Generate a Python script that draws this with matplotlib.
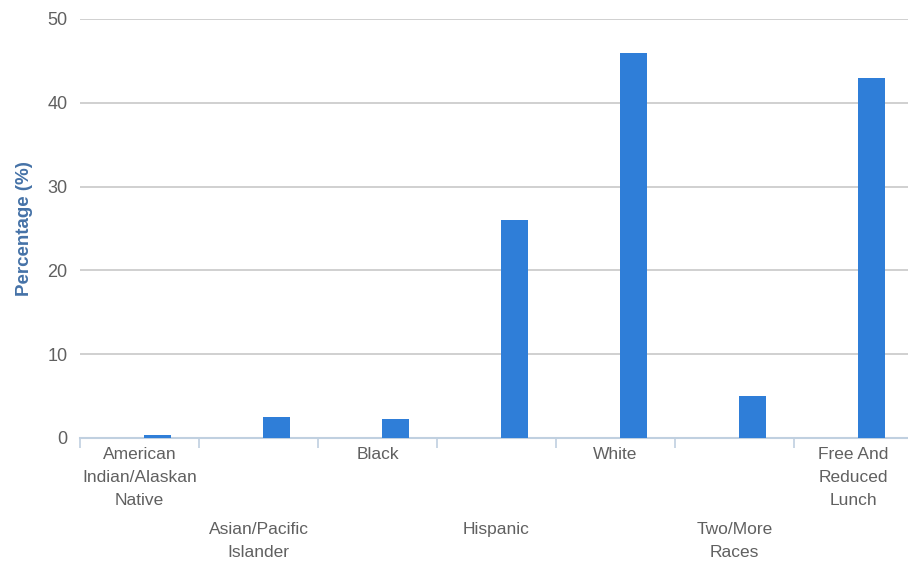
import matplotlib.pyplot as plt
import numpy as np

# categories and values
categories = ["American\nIndian/Alaskan\nNative", "Asian/Pacific\nIslander", "Black",
              "Hispanic", "White", "Two/More\nRaces", "Free And\nReduced\nLunch"]
values = [0.3, 2.5, 2.3, 26.0, 46.0, 5.0, 43.0]
yticks = [0, 10, 20, 30, 40, 50]

plt.rcParams['font.family'] = ['Liberation Sans', 'DejaVu Sans']

fig = plt.figure(figsize=(9.08, 5.68), dpi=100)
ax = fig.add_axes([80/908, 1 - 438/568, 833/908, (438 - 19)/568])

x = np.arange(len(categories))
ax.bar(x + 0.65, values, width=0.227, color='#2f7ed8', zorder=3)

ax.set_xlim(0, len(categories))
ax.set_ylim(0, 50)
ax.set_yticks(yticks)
ax.yaxis.grid(True, color='#c8c8c8', linewidth=1.2, zorder=0)
ax.tick_params(axis='y', length=0, labelsize=13, labelcolor='#606060', pad=9)

# category boundaries as ticks, labels in between
ax.set_xticks(np.arange(len(categories) + 1))
ax.set_xticklabels([])
ax.tick_params(axis='x', length=7, color='#c0d0e0', width=1.2)
for i, lab in enumerate(categories):
    yoff = -0.022 if i % 2 == 0 else -0.2
    ax.text(i + 0.5, yoff, lab, transform=ax.get_xaxis_transform(),
            ha='center', va='top', fontsize=12.5, color='#606060',
            linespacing=1.65)

for s in ['top', 'right', 'left']:
    ax.spines[s].set_visible(False)
ax.spines['bottom'].set_color('#c0d0e0')
ax.spines['bottom'].set_linewidth(1.5)

ax.set_ylabel("Percentage (%)", fontsize=13.5, fontweight='bold', color='#4572a7', labelpad=10)

fig.savefig("out.png", dpi=100)
